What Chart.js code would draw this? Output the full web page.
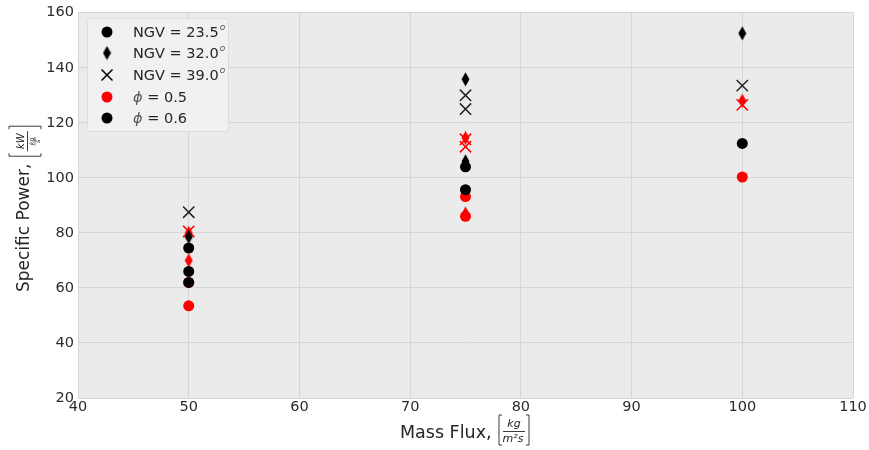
<!DOCTYPE html>
<html lang="en">
<head>
<meta charset="UTF-8">
<title>Specific Power vs Mass Flux</title>
<script src="https://cdn.jsdelivr.net/npm/chart.js"></script>
<style>
  html, body { margin: 0; padding: 0; background: #ffffff; }
  #wrap { width: 869px; height: 450px; }
</style>
</head>
<body>
<div id="wrap"><canvas id="chart" width="869" height="450"></canvas></div>
<script>
// axis ticks
const xTicks = [40, 50, 60, 70, 80, 90, 100, 110];
const yTicks = [20, 40, 60, 80, 100, 120, 140, 160];

// NGV = 23.5 deg (circles)
const ngv235Phi05X = [50, 50, 75, 75, 100];
const ngv235Phi05Y = [53.5, 62, 93.2, 86, 100.3];
const ngv235Phi06X = [50, 50, 50, 75, 75, 100];
const ngv235Phi06Y = [74.5, 66, 62, 104, 95.7, 112.5];

// NGV = 32.0 deg (thin diamonds)
const ngv32Phi05X = [50, 50, 75, 75, 100];
const ngv32Phi05Y = [80, 70, 114.5, 87, 128];
const ngv32Phi06X = [50, 75, 75, 100];
const ngv32Phi06Y = [78.5, 135.8, 106, 152.5];

// NGV = 39.0 deg (crosses)
const ngv39Phi05X = [50, 75, 75, 100];
const ngv39Phi05Y = [80.5, 114, 111.3, 126.5];
const ngv39Phi06X = [50, 75, 75, 100];
const ngv39Phi06Y = [87.5, 130, 125, 133.5];

const legendNgv = ['23.5', '32.0', '39.0'];
const legendPhi = ['0.5', '0.6'];

const RED = '#ff0000';
const BLACK = '#000000';

const zip = (xs, ys) => xs.map((x, i) => ({ x: x, y: ys[i] }));

// matplotlib style thin diamond as an image point style
function thinDiamond(color) {
    const c = document.createElement('canvas');
    c.width = 9; c.height = 15;
    const g = c.getContext('2d');
    g.fillStyle = color;
    g.beginPath();
    g.moveTo(4.5, 0.5); g.lineTo(8.5, 7.5); g.lineTo(4.5, 14.5); g.lineTo(0.5, 7.5);
    g.closePath();
    g.fill();
    return c;
}
const diamondBlack = thinDiamond(BLACK);
const diamondRed = thinDiamond(RED);

function circleSet(label, xs, ys, color) {
    return { label, data: zip(xs, ys), pointStyle: 'circle', pointRadius: 5.5,
             backgroundColor: color, borderColor: color, borderWidth: 0 };
}
function diamondSet(label, xs, ys, img) {
    return { label, data: zip(xs, ys), pointStyle: img, pointRadius: 7 };
}
function crossSet(label, xs, ys, color) {
    return { label, data: zip(xs, ys), pointStyle: 'crossRot', pointRadius: 8,
             borderColor: color, backgroundColor: color, borderWidth: 1.5 };
}

// plot background
const plotBg = {
    id: 'plotBg',
    beforeDraw(chart) {
        const a = chart.chartArea, c = chart.ctx;
        c.save();
        c.fillStyle = '#ebebeb';
        c.fillRect(a.left, a.top, a.right - a.left, a.bottom - a.top);
        c.restore();
    }
};

// square bracket drawn in local coords
function bracket(c, x0, x1, yTop, yBot) {
    c.beginPath();
    c.moveTo(x0 + 3, yTop); c.lineTo(x0, yTop); c.lineTo(x0, yBot); c.lineTo(x0 + 3, yBot);
    c.moveTo(x1 - 3, yTop); c.lineTo(x1, yTop); c.lineTo(x1, yBot); c.lineTo(x1 - 3, yBot);
    c.stroke();
}

const axisTitles = {
    id: 'axisTitles',
    afterDraw(chart) {
        const c = chart.ctx;
        c.save();
        c.fillStyle = '#262626';
        c.strokeStyle = '#262626';
        c.lineWidth = 0.9;
        c.textBaseline = 'alphabetic';

        // x title
        c.font = '17.5px "DejaVu Sans"';
        c.textAlign = 'left';
        c.fillText('Mass Flux,', 400, 438);
        bracket(c, 499, 529, 415, 445);
        c.font = 'italic 11px "DejaVu Sans"';
        c.textAlign = 'center';
        c.fillText('kg', 514, 427);
        c.beginPath(); c.moveTo(503, 431.5); c.lineTo(525, 431.5); c.stroke();
        c.fillText('m\u00B2s', 513, 442);

        // y title (rotated)
        c.translate(29, 292);
        c.rotate(-Math.PI / 2);
        c.font = '17px "DejaVu Sans"';
        c.textAlign = 'left';
        c.fillText('Specific Power,', 0, 0);
        const tw = c.measureText('Specific Power, ').width;
        const b0 = tw + 2, b1 = tw + 32, bm = (b0 + b1) / 2;
        bracket(c, b0, b1, -20, 12);
        c.textAlign = 'center';
        c.font = 'italic 10px "DejaVu Sans"';
        c.fillText('kW', bm, -5);
        c.beginPath(); c.moveTo(bm - 10, -1.5); c.lineTo(bm + 10, -1.5); c.stroke();
        c.font = 'italic 6.5px "DejaVu Sans"';
        c.fillText('kg', bm, 4.5);
        c.lineWidth = 0.6;
        c.beginPath(); c.moveTo(bm - 4.5, 6); c.lineTo(bm + 4.5, 6); c.stroke();
        c.fillText('s', bm, 11);
        c.restore();
    }
};

// legend drawn inside the plot, upper left
const insideLegend = {
    id: 'insideLegend',
    afterDraw(chart) {
        const c = chart.ctx;
        c.save();
        c.fillStyle = 'rgba(242,242,242,0.9)';
        c.strokeStyle = '#dddddd';
        c.lineWidth = 1;
        c.beginPath();
        c.roundRect(87.5, 18.5, 141, 113, 3);
        c.fill();
        c.stroke();

        const mx = 107, tx = 133;
        const rows = [32, 53, 75, 97, 118];

        // markers
        c.fillStyle = BLACK;
        c.beginPath(); c.arc(mx, rows[0], 5.5, 0, Math.PI * 2); c.fill();
        c.drawImage(diamondBlack, mx - 4.5, rows[1] - 7.5);
        c.strokeStyle = BLACK; c.lineWidth = 1.5;
        c.beginPath();
        c.moveTo(mx - 5.5, rows[2] - 5.5); c.lineTo(mx + 5.5, rows[2] + 5.5);
        c.moveTo(mx + 5.5, rows[2] - 5.5); c.lineTo(mx - 5.5, rows[2] + 5.5);
        c.stroke();
        c.fillStyle = RED;
        c.beginPath(); c.arc(mx, rows[3], 5.5, 0, Math.PI * 2); c.fill();
        c.fillStyle = BLACK;
        c.beginPath(); c.arc(mx, rows[4], 5.5, 0, Math.PI * 2); c.fill();

        // texts
        c.textBaseline = 'middle';
        c.textAlign = 'left';
        legendNgv.forEach((v, i) => {
            c.font = '14.5px "DejaVu Sans"';
            c.fillStyle = '#262626';
            const s = 'NGV = ' + v;
            c.fillText(s, tx, rows[i] + 1);
            const w = c.measureText(s).width;
            c.font = 'italic 9px "DejaVu Sans"';
            c.fillStyle = '#555555';
            c.fillText('o', tx + w + 1, rows[i] - 4);
        });
        legendPhi.forEach((v, i) => {
            const y = rows[3 + i] + 1;
            c.font = 'italic 14.5px "DejaVu Sans"';
            c.fillStyle = '#555555';
            c.fillText('\u03D5', tx, y);
            const w = c.measureText('\u03D5').width;
            c.font = '14.5px "DejaVu Sans"';
            c.fillStyle = '#262626';
            c.fillText(' = ' + v, tx + w, y);
        });
        c.restore();
    }
};

const tickFont = { family: 'DejaVu Sans', size: 14.5 };

new Chart(document.getElementById('chart'), {
    type: 'scatter',
    data: {
        datasets: [
            circleSet('NGV 23.5, phi 0.6', ngv235Phi06X, ngv235Phi06Y, BLACK),
            diamondSet('NGV 32.0, phi 0.6', ngv32Phi06X, ngv32Phi06Y, diamondBlack),
            crossSet('NGV 39.0, phi 0.5', ngv39Phi05X, ngv39Phi05Y, RED),
            crossSet('NGV 39.0, phi 0.6', ngv39Phi06X, ngv39Phi06Y, '#222222'),
            diamondSet('NGV 32.0, phi 0.5', ngv32Phi05X, ngv32Phi05Y, diamondRed),
            circleSet('NGV 23.5, phi 0.5', ngv235Phi05X, ngv235Phi05Y, RED)
        ]
    },
    options: {
        responsive: false,
        devicePixelRatio: 1,
        animation: false,
        layout: { padding: { top: 9, right: 16, left: 0, bottom: 0 } },
        plugins: { legend: { display: false }, tooltip: { enabled: false } },
        scales: {
            x: {
                type: 'linear', min: 40, max: 110,
                afterBuildTicks: s => { s.ticks = xTicks.map(v => ({ value: v })); },
                afterFit: s => { s.height = 52; },
                grid: { color: '#d6d6d6', drawTicks: false },
                border: { display: false },
                ticks: { font: tickFont, color: '#2b2b2b', padding: 1, maxRotation: 0 }
            },
            y: {
                type: 'linear', min: 20, max: 160,
                afterBuildTicks: s => { s.ticks = yTicks.map(v => ({ value: v })); },
                afterFit: s => { s.width = 78; },
                grid: { color: '#d6d6d6', drawTicks: false },
                border: { display: false },
                ticks: { font: tickFont, color: '#2b2b2b', padding: 4 }
            }
        }
    },
    plugins: [plotBg, axisTitles, insideLegend]
});
</script>
</body>
</html>
